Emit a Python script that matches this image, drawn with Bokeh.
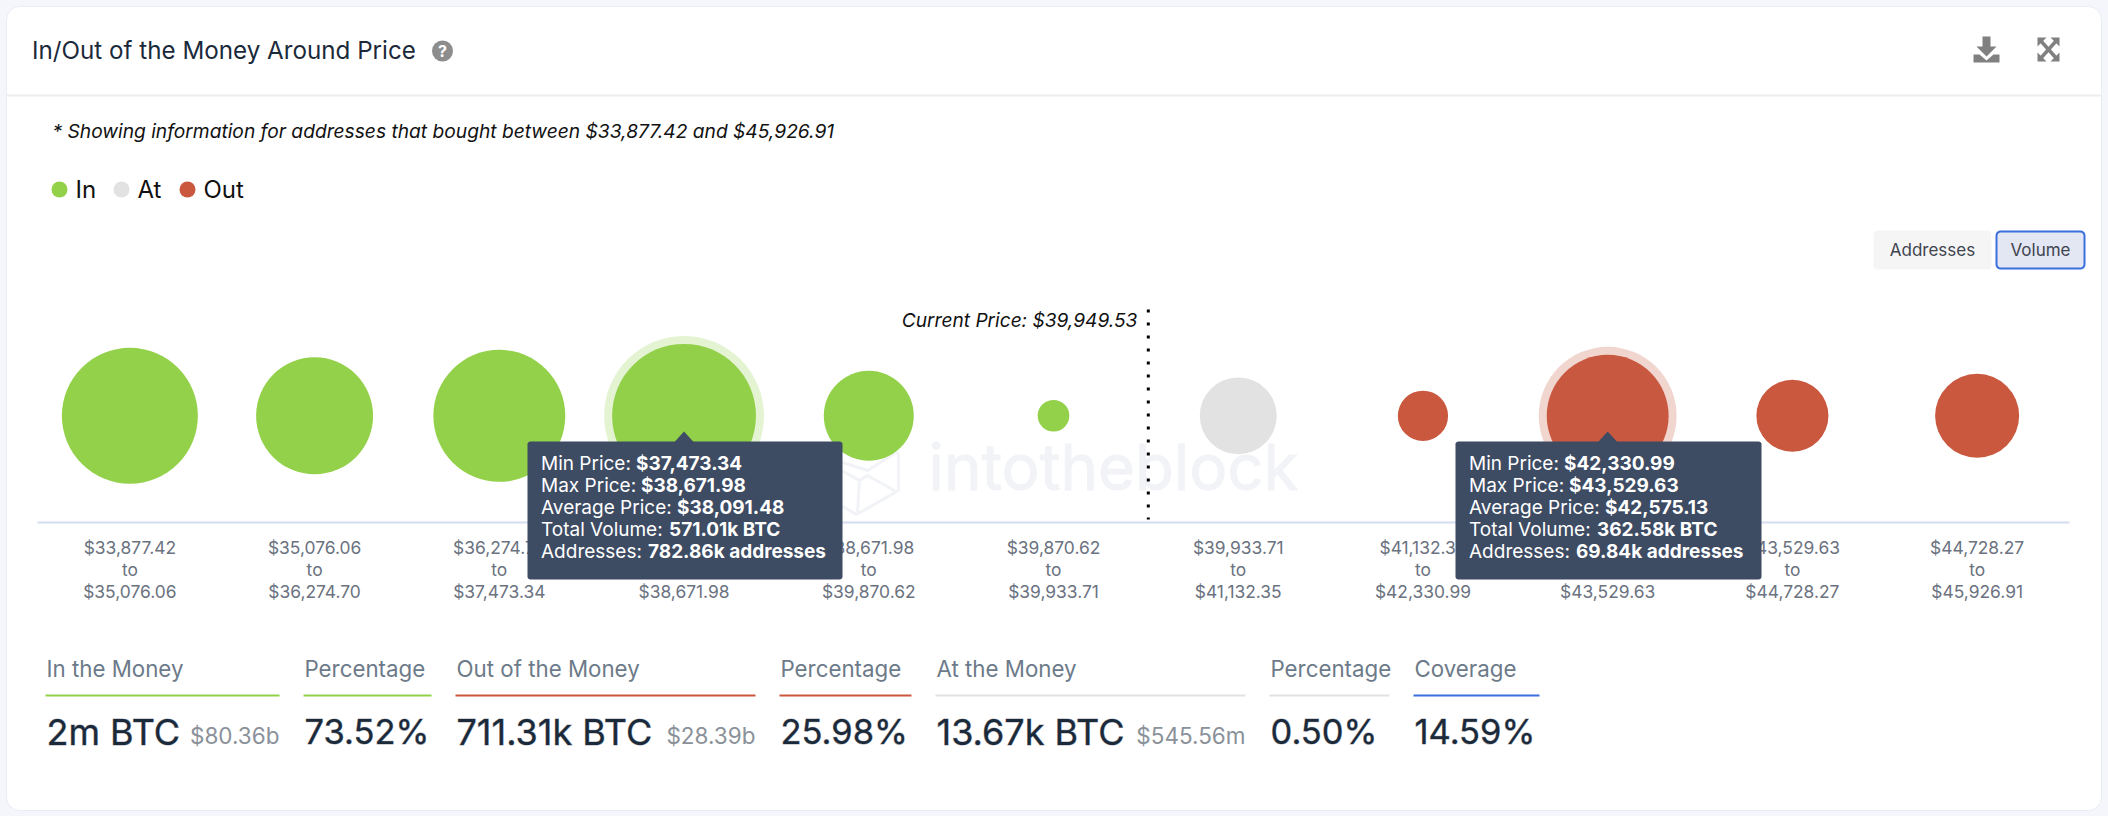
from bokeh.plotting import figure
from bokeh.embed import file_html
from bokeh.resources import INLINE
from bokeh.core.properties import value
from bokeh.models import (Range1d, FixedTicker, LinearAxis, GlobalInlineStyleSheet)

# ---------- data ----------
bucket_low = [33877.42, 35076.06, 36274.70, 37473.34, 38671.98, 39870.62, 39933.71, 41132.35, 42330.99, 43529.63, 44728.27]
bucket_high = [35076.06, 36274.70, 37473.34, 38671.98, 39870.62, 39933.71, 41132.35, 42330.99, 43529.63, 44728.27, 45926.91]
volume_k = [490, 324, 451, 571.01, 158, 9, 103, 32, 362.58, 86, 131]
status = ["In", "In", "In", "In", "In", "In", "At", "Out", "Out", "Out", "Out"]
current_price = 39949.53
highlighted = [3, 8]
tooltip_rows = {
    3: ["$37,473.34", "$38,671.98", "$38,091.48", "571.01k BTC", "782.86k addresses"],
    8: ["$42,330.99", "$43,529.63", "$42,575.13", "362.58k BTC", "69.84k addresses"],
}
tooltip_keys = ["Min Price: ", "Max Price: ", "Average Price: ", "Total Volume: ", "Addresses: "]
stats_labels = ["In the Money", "Percentage", "Out of the Money", "Percentage", "At the Money", "Percentage", "Coverage"]
stats_values = ["2m BTC", "73.52%", "711.31k BTC", "25.98%", "13.67k BTC", "0.50%", "14.59%"]
stats_subs = ["$80.36b", "", "$28.39b", "", "$545.56m", "", ""]

# ---------- style ----------
GREEN, GREY, RED, BLUE = "#93d14a", "#e2e2e2", "#c9583f", "#3b6fdc"
COL = {"In": GREEN, "At": GREY, "Out": RED}
FONT = value("Inter")
INK = "#1b2a3a"
W, H = 2108, 816
X0, X1 = 37, 2069        # px extent of the category band
AXIS_Y, BUB_Y = 521.7, 415.3

unit = (X1 - X0) / len(volume_k)
def radius(v):
    return 7.09 * v ** 0.365

p = figure(width=W, height=H, output_backend="svg", toolbar_location=None, min_border=0,
           x_range=Range1d(-0.5 - X0 / unit, 10.5 + (W - X1) / unit),
           y_range=Range1d(-(H - BUB_Y), BUB_Y),
           x_axis_location=None, y_axis_location=None,
           background_fill_color="#f4f6fb", border_fill_color="#f4f6fb", outline_line_color=None,
           stylesheets=[GlobalInlineStyleSheet(css="body{background:#f4f6fb}")])
p.grid.visible = False
p.extra_x_ranges["px"] = Range1d(1, W + 1)
p.extra_y_ranges["py"] = Range1d(H, 0)
PX = dict(x_range_name="px", y_range_name="py")

def rrect(l, t, r, b, rad):
    xs, ys = [], []
    for cx, cy, sx, sy, flip in [(r - rad, t + rad, 1, -1, False), (r - rad, b - rad, 1, 1, True),
                                 (l + rad, b - rad, -1, 1, False), (l + rad, t + rad, -1, -1, True)]:
        pts = [(0, 1), (.38, .92), (.71, .71), (.92, .38), (1, 0)]
        if flip:
            pts = pts[::-1]
        for a, b_ in pts:
            xs.append(cx + sx * a * rad)
            ys.append(cy + sy * b_ * rad)
    return xs, ys

def label(x, y, s, size, color, style="normal", align="left", level="glyph", **kw):
    p.text([x], [y], text=[s], text_font=FONT, text_font_size=f"{size}px", text_color=color,
           text_font_style=style, text_align=align, text_baseline="middle", level=level, **PX, **kw)

# card
xs, ys = rrect(7, 6, 2102, 810, 13)
p.patch(xs, ys, fill_color="white", line_color="#e9ecf3", line_width=1, level="underlay", **PX)
p.segment([7], [95], [2102], [95], line_color="#eeeeee", line_width=2, level="underlay", **PX)

# header
label(32.5, 50, "In/Out of the Money Around Price", 24.2, INK)
p.scatter([443], [50.5], size=21, marker="circle", fill_color="#8d8d8d", line_color=None, **PX)
label(443, 50.5, "?", 16, "white", style="bold", align="center")
# download icon
p.patch([1983, 1991, 1991, 1997, 1987, 1977, 1983], [36, 36, 46, 46, 56, 46, 46], fill_color="#808080", line_color=None, **PX)
p.patch([1974, 1980, 1987, 1994, 2000, 2000, 1974], [54, 54, 60, 54, 54, 62, 62], fill_color="#808080", line_color=None, **PX)
# expand icon
for a, b_, c, d, e, f in [(2038, 37, 2047, 37, 2038, 46), (2060, 37, 2051, 37, 2060, 46),
                          (2038, 61, 2047, 61, 2038, 52), (2060, 61, 2051, 61, 2060, 52)]:
    p.patch([a, c, e], [b_, d, f], fill_color="#808080", line_color=None, **PX)
p.segment([2041, 2057], [40, 40], [2057, 2041], [58, 58], line_color="#808080", line_width=3.5, **PX)

label(53, 130.5, "* Showing information for addresses that bought between $33,877.42 and $45,926.91", 19.2, "#111111", style="italic")

# legend
for dot, txt, name in [(60, 76, "In"), (122, 138, "At"), (188, 204, "Out")]:
    p.scatter([dot], [189], size=16, marker="circle", fill_color=COL[name], line_color=None, **PX)
    label(txt, 189, name, 24, "#111111")

# buttons
xs, ys = rrect(1874, 230, 1992, 269, 4)
p.patch(xs, ys, fill_color="#f5f5f5", line_color=None, **PX)
xs, ys = rrect(1997, 231, 2085, 268, 4)
p.patch(xs, ys, fill_color="#e3e7f3", line_color=BLUE, line_width=2, **PX)
label(1933, 249.5, "Addresses", 17, "#40444f", align="center")
label(2041, 249.5, "Volume", 17, "#40444f", align="center")

# watermark
WM = "#f1f3f7"
label(929, 466, "intotheblock", 63.5, WM, level="underlay", text_outline_color=WM)
p.multi_line([[857, 899, 899, 857, 815, 815, 857], [815, 868, 895], [895, 868, 860, 858], [860, 820]],
             [[430, 453, 490, 514, 490, 453, 430], [453, 470, 453], [490, 475, 480, 512], [480, 458]],
             line_color=WM, line_width=3, level="underlay", **PX)

# bubbles
idx = list(range(len(volume_k)))
for name in ["In", "At", "Out"]:
    sel = [i for i in idx if status[i] == name]
    p.scatter(sel, [0] * len(sel), size=[2 * radius(volume_k[i]) for i in sel], marker="circle",
              fill_color=COL[name], line_color=None)
for i in highlighted:
    p.scatter([i], [0], size=2 * radius(volume_k[i]) + 16, marker="circle",
              fill_color=COL[status[i]], fill_alpha=0.25, line_color=None)

# current price marker: position inside the bucket that holds it
cur = next(i for i in idx if bucket_low[i] <= current_price < bucket_high[i])
cur_x = cur - 0.5 + (current_price - bucket_low[cur]) / (bucket_high[cur] - bucket_low[cur])
p.segment([cur_x], [106.3], [cur_x], [-103.7], line_color="#000000", line_width=3, line_dash="3 10")
p.text([cur_x], [96], text=[f"Current Price: ${current_price:,.2f}"], text_font=FONT, text_font_size="19.1px",
       text_font_style="italic", text_color="#111111", text_align="right", text_baseline="middle", x_offset=[-11])

# axis
ax = LinearAxis(ticker=FixedTicker(ticks=idx), bounds=(-0.5, 10.5), fixed_location=BUB_Y - AXIS_Y,
                major_label_overrides={i: f"${bucket_low[i]:,.2f}\nto\n${bucket_high[i]:,.2f}" for i in idx},
                axis_line_color="#d4deee", axis_line_width=2, major_tick_line_color=None, minor_tick_line_color=None,
                major_label_text_font="Inter", major_label_text_font_size="17.4px", major_label_text_color="#6b7280",
                major_label_text_line_height=1.05, major_label_standoff=9, major_label_orientation="horizontal")
p.add_layout(ax, "below")

# tooltips
BOLD_OFF = [95, 100, 136, 128, 107]
BOX = {3: (528, 843), 8: (1456, 1762)}
for i, rows in tooltip_rows.items():
    l, r = BOX[i]
    tip = X0 + (i + 0.5) * unit + 1
    xs, ys = rrect(l, 441, r, 579, 3)
    p.patch(xs, ys, fill_color="#3d4b63", line_color=None, level="overlay", **PX)
    p.patch([tip - 10, tip, tip + 10], [442, 431, 442], fill_color="#3d4b63", line_color=None, level="overlay", **PX)
    for n, (k, v) in enumerate(zip(tooltip_keys, rows)):
        y = 463 + 22 * n
        label(l + 13.5, y, k.strip(), 19, "white", level="overlay")
        label(l + 13.5 + BOLD_OFF[n], y, v, 19, "white", style="bold", level="overlay")

# stats
rules = [(46, 280, GREEN), (304, 432, GREEN), (456, 756, RED), (780, 912, RED), (936, 1246, GREY), (1270, 1390, GREY), (1414, 1540, BLUE)]
for (l, r, c), t, v, s in zip(rules, stats_labels, stats_values, stats_subs):
    label(l + 1, 668, t, 22.3, "#6c7a89")
    p.segment([l], [695], [r], [695], line_color=c, line_width=2, **PX)
    label(l + 1, 731, v, 34.5 if v.endswith("%") else 36, INK, text_outline_color="#1b2a3a66")
    if s:
        label(r, 735, s, 22.5, "#8a9199", align="right")

open("out.html", "w").write(file_html(p, INLINE))
